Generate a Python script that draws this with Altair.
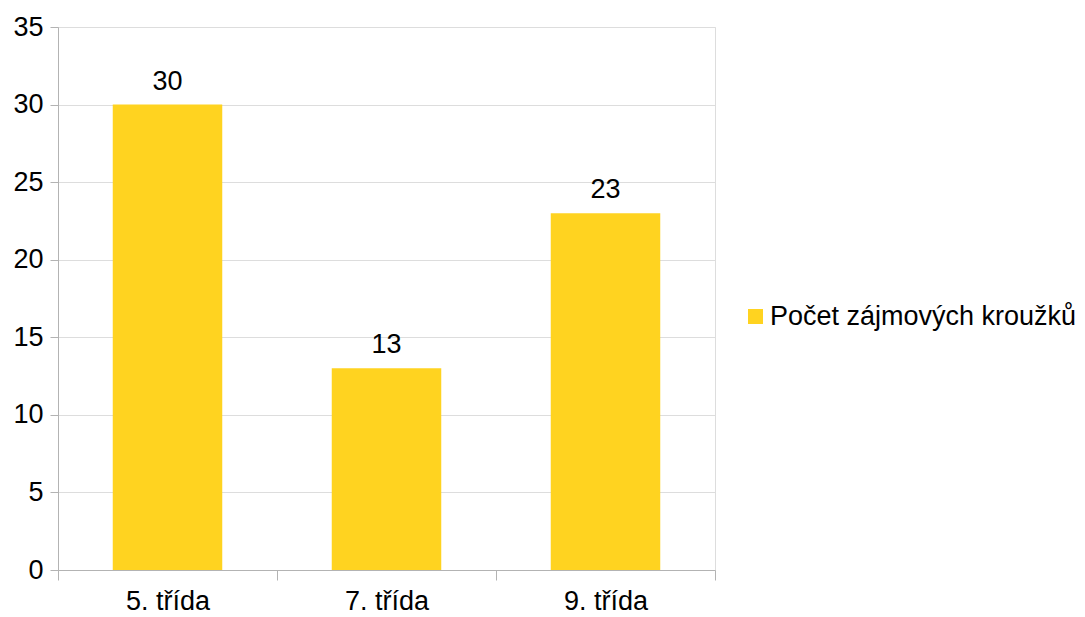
import altair as alt
import pandas as pd

categories = ["5. třída", "7. třída", "9. třída"]
values = [30, 13, 23]
series_name = "Počet zájmových kroužků"

df = pd.DataFrame({"trida": categories, "pocet": values, "serie": [series_name] * 3})

FONT = "Liberation Sans"
FS = 27

base = alt.Chart(df).encode(
    x=alt.X("trida:N", sort=categories, title=None,
            scale=alt.Scale(paddingInner=0, paddingOuter=0),
            axis=alt.Axis(labelAngle=0, tickBand="extent", tickSize=10,
                          labelFontSize=FS, labelFont=FONT, labelColor="#000000",
                          labelPadding=8, domainColor="#b3b3b3", tickColor="#b3b3b3",
                          grid=False)),
    y=alt.Y("pocet:Q", title=None,
            scale=alt.Scale(domain=[0, 35]),
            axis=alt.Axis(values=[0, 5, 10, 15, 20, 25, 30, 35], tickSize=8,
                          labelFontSize=FS, labelFont=FONT, labelColor="#000000",
                          labelPadding=7, domainColor="#b3b3b3", tickColor="#b3b3b3",
                          gridColor="#dddddd", gridWidth=1)),
)

bars = base.mark_bar(width=alt.RelativeBandSize(0.5), color="#ffd320").encode(
    color=alt.Color("serie:N", title=None,
                    scale=alt.Scale(range=["#ffd320"]),
                    legend=alt.Legend(orient="none", legendX=684, legendY=276,
                                      symbolType="square", symbolSize=225,
                                      symbolStrokeWidth=0, labelOffset=1,
                                      labelFontSize=FS, labelFont=FONT,
                                      labelColor="#000000", labelLimit=400))
)

labels = base.mark_text(baseline="bottom", dy=-9, fontSize=FS, font=FONT,
                        color="#000000").encode(text="pocet:Q")

chart = (bars + labels).properties(
    width=657, height=543,
    autosize=alt.AutoSizeParams(type="none"),
    padding={"left": 50, "top": 19, "right": 362, "bottom": 45},
).configure_view(strokeWidth=1, stroke="#dddddd")

chart.save("out.html", embed_options={"renderer": "svg", "actions": False})
